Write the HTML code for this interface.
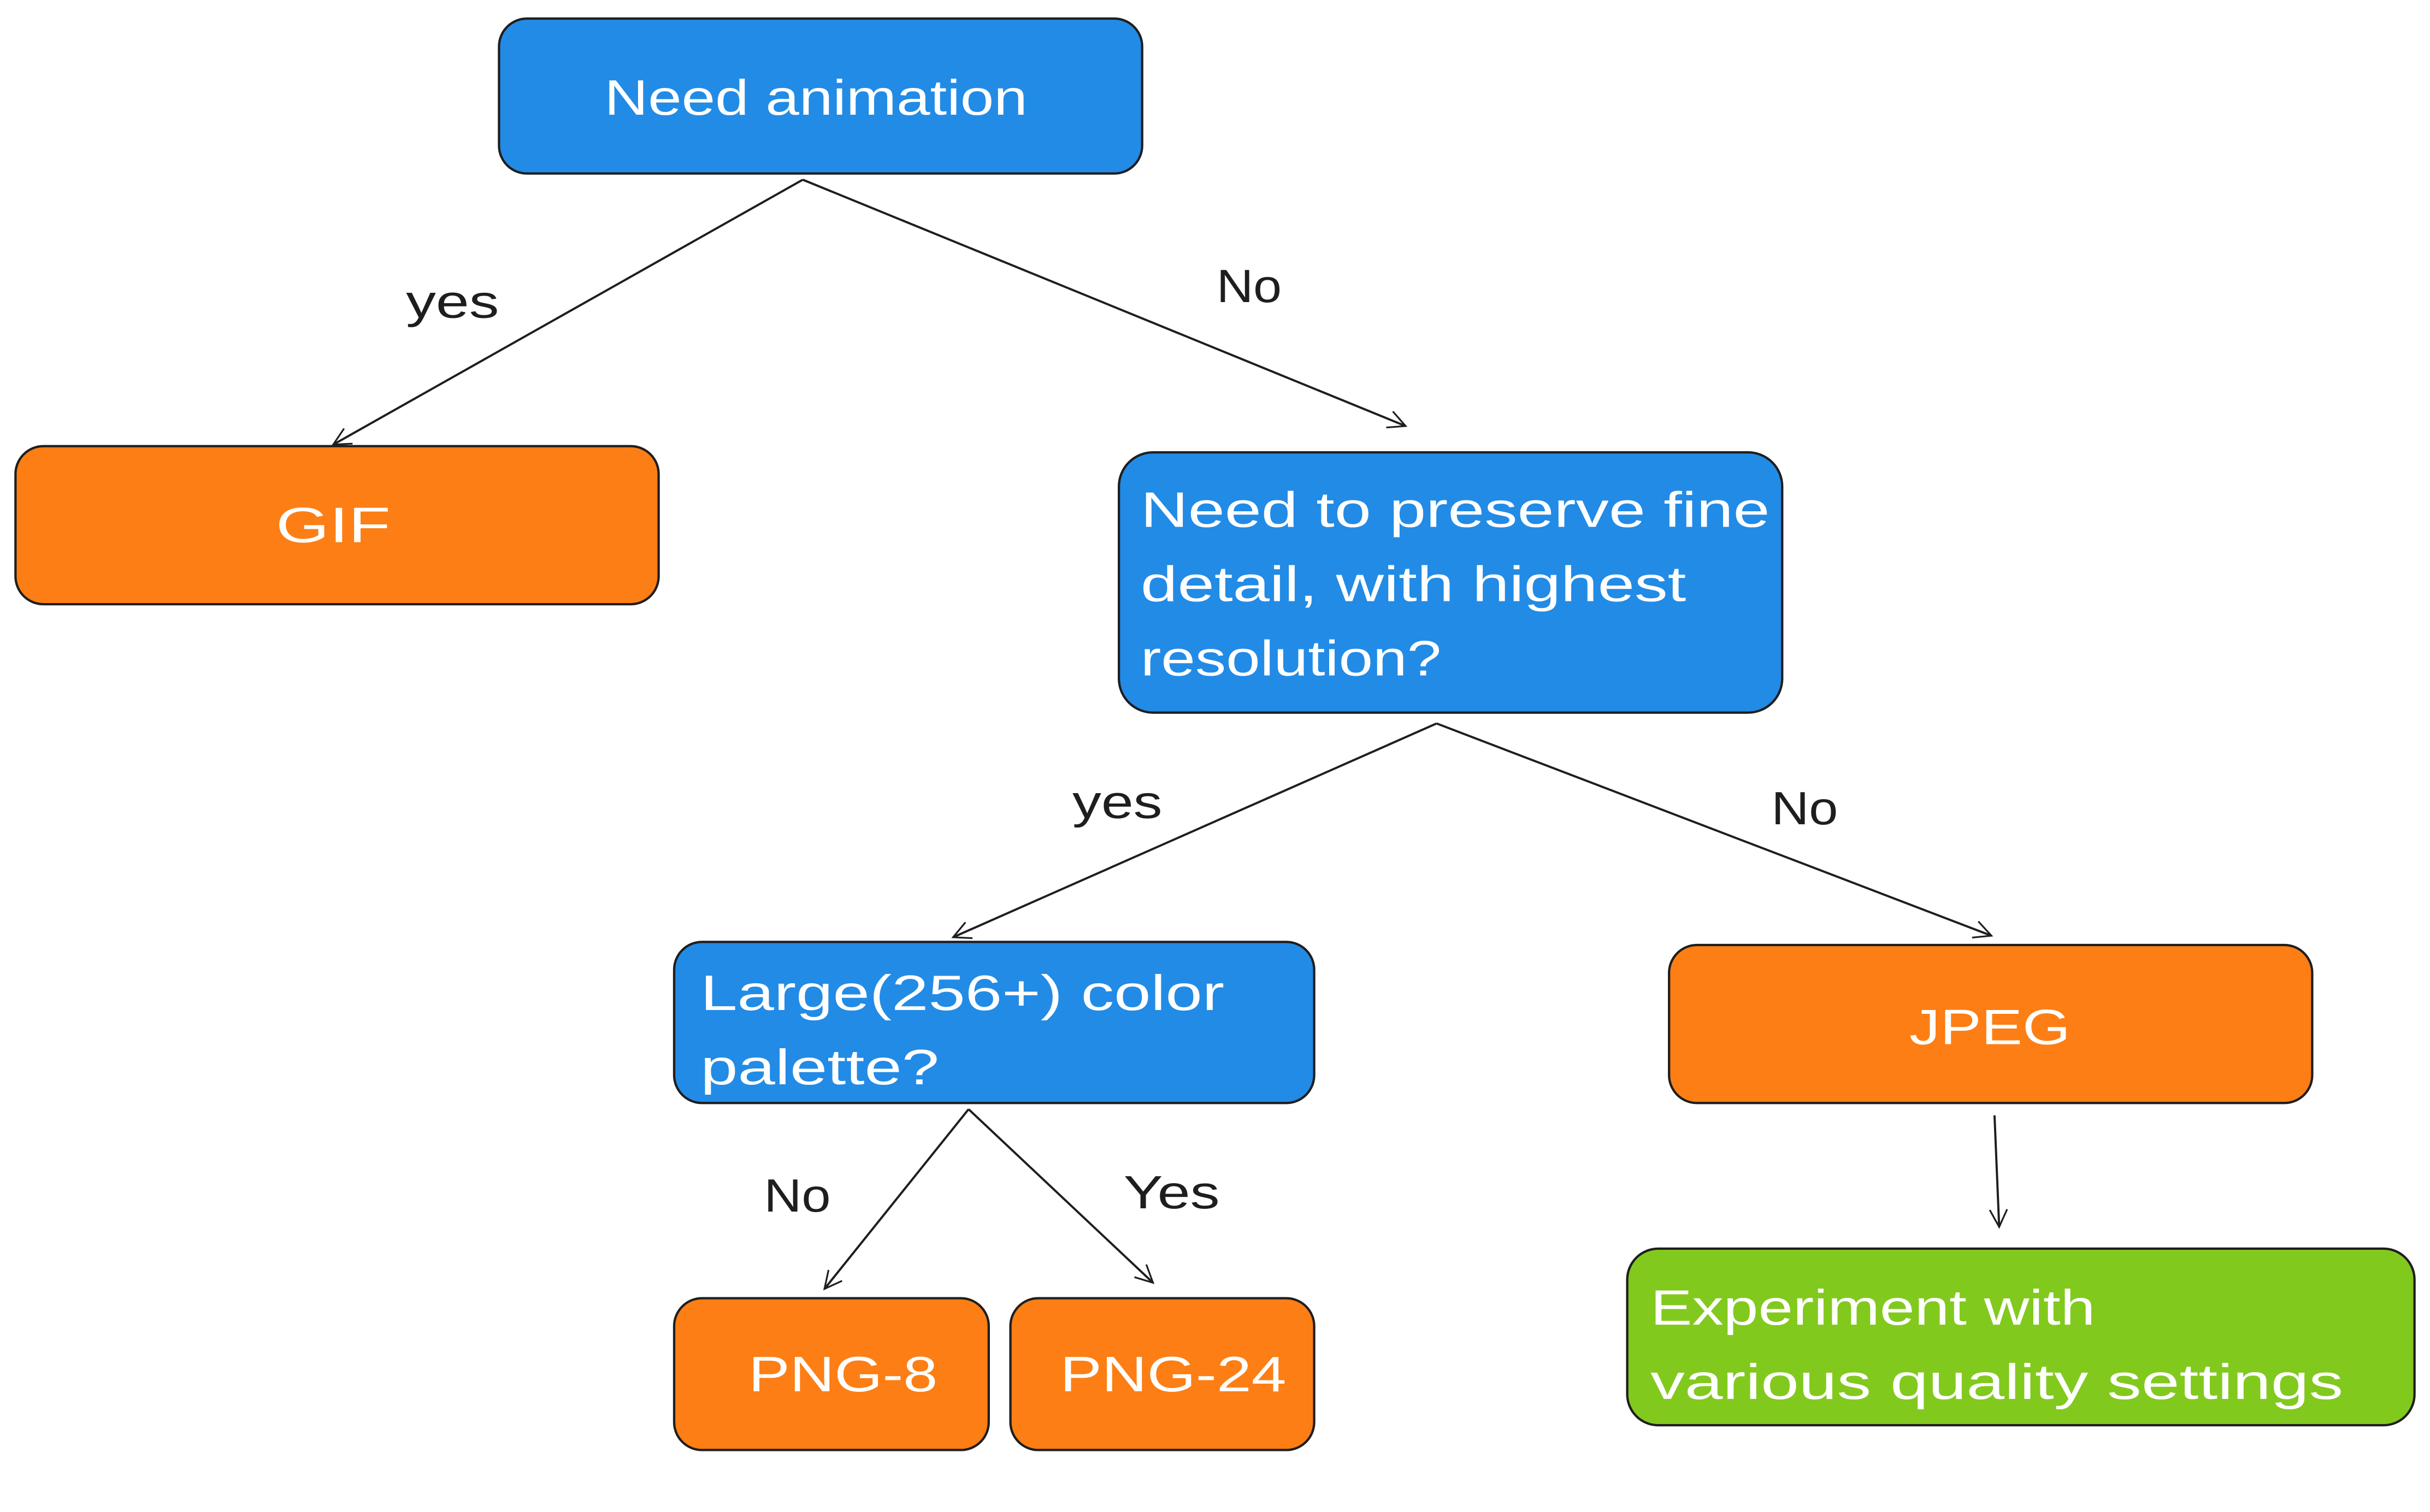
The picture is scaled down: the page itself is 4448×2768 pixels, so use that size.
<!DOCTYPE html>
<html><head><meta charset="utf-8"><style>
html,body{margin:0;padding:0;background:#fff;}
svg{display:block;}
text{font-family:"Liberation Sans",sans-serif;}
</style></head><body>
<svg width="4448" height="2768" viewBox="0 0 1568 976" preserveAspectRatio="none" xmlns="http://www.w3.org/2000/svg">
<defs>
<marker id="a" viewBox="0 0 20 20" refX="18" refY="10" markerWidth="14" markerHeight="14" markerUnits="userSpaceOnUse" orient="auto">
<path d="M2 2 L18 10 L2 18" fill="none" stroke="#1e1e1e" stroke-width="1.6"/>
</marker>
</defs>
<g stroke="#1e1e1e" stroke-width="1.5">
<rect x="322" y="12" width="415" height="100" rx="18" fill="#228be6"/>
<rect x="10" y="288" width="415" height="102" rx="18" fill="#fd7e14"/>
<rect x="722" y="292" width="428" height="168" rx="22" fill="#228be6"/>
<rect x="435" y="608" width="413" height="104" rx="18" fill="#228be6"/>
<rect x="1077" y="610" width="415" height="102" rx="18" fill="#fd7e14"/>
<rect x="435" y="838" width="203" height="98" rx="18" fill="#fd7e14"/>
<rect x="652" y="838" width="196" height="98" rx="18" fill="#fd7e14"/>
<rect x="1050" y="806" width="508" height="114" rx="20" fill="#82c91e"/>
</g>
<g stroke="#1e1e1e" stroke-width="1.4" fill="none" marker-end="url(#a)">
<line x1="518" y1="116" x2="215" y2="287"/>
<line x1="518" y1="116" x2="907" y2="275"/>
<line x1="927" y1="467" x2="615" y2="605"/>
<line x1="927" y1="467" x2="1285" y2="604"/>
<line x1="625" y1="716" x2="532" y2="832"/>
<line x1="625" y1="716" x2="744" y2="828"/>
<line x1="1287" y1="720" x2="1290" y2="792"/>
</g>
<g fill="#fff" font-size="32" lengthAdjust="spacingAndGlyphs">
<text x="390" y="74" textLength="273" lengthAdjust="spacingAndGlyphs">Need animation</text>
<text x="178" y="350" textLength="74" lengthAdjust="spacingAndGlyphs">GIF</text>
<text x="736" y="340" textLength="406" lengthAdjust="spacingAndGlyphs">Need to preserve fine</text>
<text x="736" y="388" textLength="352" lengthAdjust="spacingAndGlyphs">detail, with highest</text>
<text x="736" y="436" textLength="194" lengthAdjust="spacingAndGlyphs">resolution?</text>
<text x="452" y="652" textLength="338" lengthAdjust="spacingAndGlyphs">Large(256+) color</text>
<text x="452" y="700" textLength="154" lengthAdjust="spacingAndGlyphs">palette?</text>
<text x="1232" y="674" textLength="104" lengthAdjust="spacingAndGlyphs">JPEG</text>
<text x="483" y="898" textLength="122" lengthAdjust="spacingAndGlyphs">PNG-8</text>
<text x="684" y="898" textLength="146" lengthAdjust="spacingAndGlyphs">PNG-24</text>
<text x="1065" y="855" textLength="287" lengthAdjust="spacingAndGlyphs">Experiment with</text>
<text x="1065" y="903" textLength="447" lengthAdjust="spacingAndGlyphs">various quality settings</text>
</g>
<g fill="#1e1e1e" font-size="30">
<text x="262" y="205" textLength="60" lengthAdjust="spacingAndGlyphs">yes</text>
<text x="785" y="195" textLength="42" lengthAdjust="spacingAndGlyphs">No</text>
<text x="692" y="528" textLength="58" lengthAdjust="spacingAndGlyphs">yes</text>
<text x="1143" y="532" textLength="43" lengthAdjust="spacingAndGlyphs">No</text>
<text x="493" y="782" textLength="43" lengthAdjust="spacingAndGlyphs">No</text>
<text x="725" y="780" textLength="62" lengthAdjust="spacingAndGlyphs">Yes</text>
</g>
</svg>
</body></html>
